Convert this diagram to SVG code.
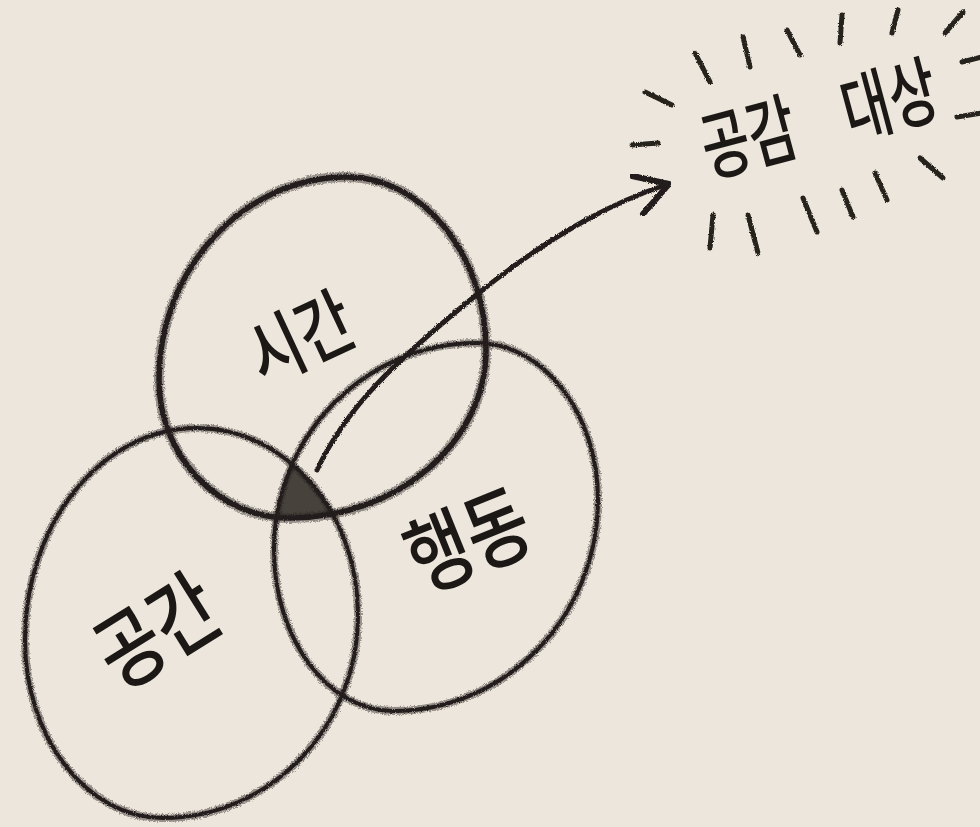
<svg xmlns="http://www.w3.org/2000/svg" width="980" height="827" viewBox="0 0 980 827">
<style>
.halo{fill:none;stroke:#2a2522;stroke-opacity:0.45;stroke-linecap:round;stroke-linejoin:round}
.ring{fill:none;stroke:#221d1b;stroke-linecap:round;stroke-linejoin:round}
.lbl{font-family:"Noto Sans CJK KR","Noto Sans",sans-serif;font-weight:500;fill:#1c1816;text-anchor:middle;dominant-baseline:central}
.ray{stroke:#26211e;stroke-width:5;stroke-linecap:round;fill:none}
</style>
<defs>
<filter id="pencil" x="-5%" y="-5%" width="110%" height="110%">
<feTurbulence type="fractalNoise" baseFrequency="0.9" numOctaves="2" seed="4" result="n"/>
<feDisplacementMap in="SourceGraphic" in2="n" scale="3" xChannelSelector="R" yChannelSelector="G"/>
</filter>
<filter id="grain" x="-5%" y="-5%" width="110%" height="110%">
<feTurbulence type="fractalNoise" baseFrequency="1.3" numOctaves="2" seed="9" result="n"/>
<feDisplacementMap in="SourceGraphic" in2="n" scale="5" xChannelSelector="R" yChannelSelector="G"/>
</filter>
<path id="pS" d="M347,177 C423,177 486,255 486,350 C486,442 398,518 290,518 C218,518 159,456 159,380 C159,268 244,177 347,177 Z"/>
<path id="pG" d="M197,428 C286,428 358,512 358,615 C358,727 270,818 163,818 C87,818 25,738 25,640 C25,523 102,428 197,428 Z"/>
<path id="pH" d="M477,343 C544,343 598,414 598,500 C598,616 506,711 393,711 C328,711 274,639 274,550 C274,436 365,343 477,343 Z"/>
<clipPath id="clipG"><path d="M197,428 C286,428 358,512 358,615 C358,727 270,818 163,818 C87,818 25,738 25,640 C25,523 102,428 197,428 Z"/></clipPath>
<clipPath id="clipH"><path d="M477,343 C544,343 598,414 598,500 C598,616 506,711 393,711 C328,711 274,639 274,550 C274,436 365,343 477,343 Z"/></clipPath>
</defs>
<rect width="980" height="827" fill="#ede6dc"/>

<g id="center" filter="url(#grain)">
<g clip-path="url(#clipH)"><path clip-path="url(#clipG)" d="M347,177 C423,177 486,255 486,350 C486,442 398,518 290,518 C218,518 159,456 159,380 C159,268 244,177 347,177 Z" fill="#2b2522" opacity="0.85"/></g>
</g>

<g id="sigan">
<use href="#pS" class="halo" stroke-width="10" filter="url(#grain)"/>
<use href="#pS" class="ring" stroke-width="5.5" filter="url(#pencil)"/>
<text class="lbl" font-size="62" transform="translate(298,333) rotate(-25) scale(0.95,1.2)">시간</text>
</g>

<g id="gonggan">
<use href="#pG" class="halo" stroke-width="8" filter="url(#grain)"/>
<use href="#pG" class="ring" stroke-width="4" filter="url(#pencil)"/>
<text class="lbl" font-size="72" transform="translate(154,626) rotate(-32) scale(0.95,1.2)">공간</text>
</g>

<g id="haengdong">
<use href="#pH" class="halo" stroke-width="8" filter="url(#grain)"/>
<use href="#pH" class="ring" stroke-width="4" filter="url(#pencil)"/>
<text class="lbl" font-size="72" transform="translate(466,535) rotate(-22) scale(0.95,1.2)">행동</text>
</g>

<g id="target">
<text class="lbl" font-size="58" word-spacing="42" transform="translate(818,114) rotate(-15) scale(0.9,1.3)">공감 대상</text>
<g filter="url(#pencil)">
<path class="ray" d="M645,92 L672,105"/>
<path class="ray" d="M632,145 L658,143"/>
<path class="ray" d="M695,53 L710,82"/>
<path class="ray" d="M743,37 L750,67"/>
<path class="ray" d="M787,30 L800,55"/>
<path class="ray" d="M842,15 L840,43"/>
<path class="ray" d="M898,10 L892,33"/>
<path class="ray" d="M963,12 L945,33"/>
<path class="ray" d="M982,57 L962,62"/>
<path class="ray" d="M982,113 L957,117"/>
<path class="ray" d="M920,158 L943,178"/>
<path class="ray" d="M875,173 L887,200"/>
<path class="ray" d="M842,190 L853,217"/>
<path class="ray" d="M803,198 L817,232"/>
<path class="ray" d="M748,215 L758,253"/>
<path class="ray" d="M713,215 L710,248"/>
</g>
</g>

<g id="connectors">
<path class="ring" stroke-width="5" filter="url(#pencil)" d="M317,470 C345,410 390,365 480,292 C560,228 620,200 668,184"/>
<path class="ring" stroke-width="6" filter="url(#pencil)" d="M632,176 L669,184 L643,214"/>
</g>
</svg>
